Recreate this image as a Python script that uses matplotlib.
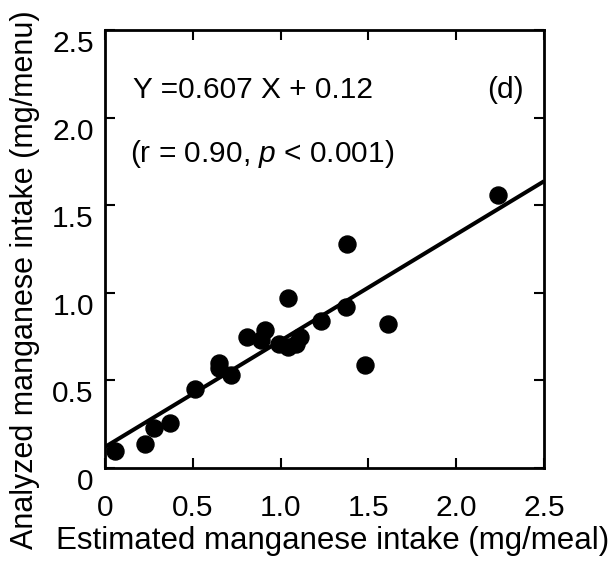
import matplotlib
matplotlib.use('Agg')
import matplotlib.pyplot as plt
import numpy as np

plt.rcParams['font.family'] = ['Liberation Sans', 'DejaVu Sans']
plt.rcParams['mathtext.fontset'] = 'custom'
plt.rcParams['mathtext.it'] = 'Liberation Sans:italic'
plt.rcParams['mathtext.rm'] = 'Liberation Sans'

# estimated vs analyzed manganese intake
estimated = [0.06, 0.23, 0.28, 0.37, 0.51, 0.65, 0.65, 0.72, 0.81, 0.89, 0.91,
             0.99, 1.04, 1.09, 1.11, 1.04, 1.23, 1.37, 1.38, 1.48, 1.61, 2.24]
analyzed = [0.10, 0.135, 0.23, 0.255, 0.45, 0.60, 0.57, 0.53, 0.75, 0.73, 0.79,
            0.71, 0.69, 0.71, 0.75, 0.97, 0.84, 0.92, 1.28, 0.59, 0.82, 1.56]
slope = 0.607
intercept = 0.12
ticks = [0, 0.5, 1.0, 1.5, 2.0, 2.5]
tick_labels = ['0', '0.5', '1.0', '1.5', '2.0', '2.5']

fs = 21.5
fig = plt.figure(figsize=(6.1, 5.68), dpi=100)
ax = fig.add_axes([0.172, 0.176, 0.72, 0.771])

xl = np.array([0, 2.5])
ax.plot(xl, slope * xl + intercept, color='black', lw=2.9, solid_capstyle='butt')
ax.scatter(estimated, analyzed, s=150, color='black', zorder=3)

ax.set_xlim(0, 2.5)
ax.set_ylim(0, 2.5)
ax.set_xticks(ticks)
ax.set_xticklabels(tick_labels)
ax.set_yticks(ticks)
ax.set_yticklabels(tick_labels, va='top')
ax.tick_params(direction='in', length=7, width=1.5, top=True, right=True,
               labelsize=fs)
ax.tick_params(axis='x', pad=19)
ax.tick_params(axis='y', pad=8)
for sp in ax.spines.values():
    sp.set_linewidth(2)

ax.set_xlabel('Estimated manganese intake (mg/meal)', fontsize=22.5)
ax.set_ylabel('Analyzed manganese intake (mg/menu)', fontsize=22)
ax.xaxis.set_label_coords(0.519, -0.166)
ax.xaxis.label.set_va('center')
ax.yaxis.set_label_coords(-0.182, 0.43)
ax.yaxis.label.set_va('center')

ax.text(0.16, 2.16, 'Y =0.607 X + 0.12', fontsize=fs, va='center')
ax.text(0.14, 1.79, r'(r = 0.90, $\mathit{p}$ < 0.001)', fontsize=fs, va='center')
ax.text(2.28, 2.16, '(d)', fontsize=fs, va='center', ha='center')

fig.savefig('out.png', dpi=100)
